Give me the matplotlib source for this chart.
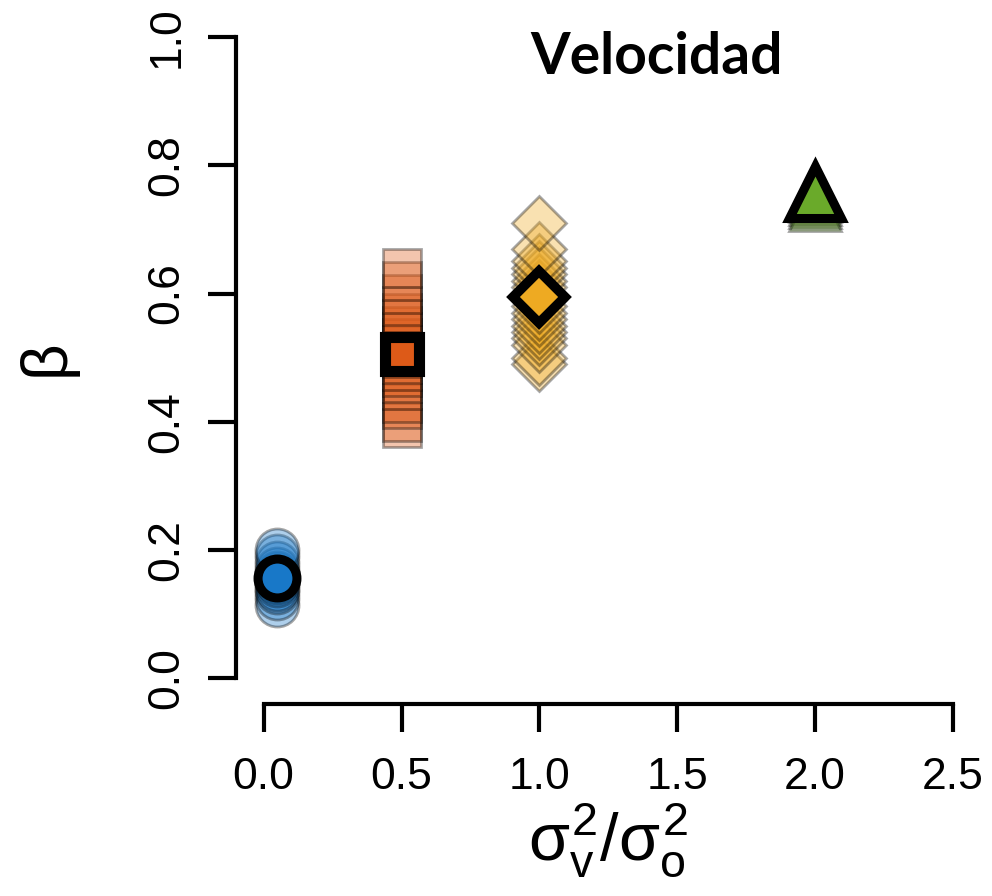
import matplotlib.pyplot as plt

# ratio of variances for each group and the mean beta
ratio = [0.05, 0.5, 1.0, 2.0]
beta_mean = [0.157, 0.505, 0.594, 0.758]

# replicate estimates behind each mean (read off the faded clouds)
beta_blue = [0.115, 0.125, 0.135, 0.14, 0.145, 0.15, 0.155, 0.16, 0.165, 0.17, 0.18, 0.19, 0.2]
beta_orange = [0.39, 0.40, 0.42, 0.43, 0.45, 0.46, 0.47, 0.48, 0.49, 0.50, 0.51,
               0.52, 0.53, 0.54, 0.55, 0.56, 0.57, 0.58, 0.60, 0.62, 0.64]
beta_yellow = [0.49, 0.50, 0.52, 0.53, 0.54, 0.55, 0.56, 0.57, 0.58, 0.59, 0.60,
               0.61, 0.62, 0.63, 0.64, 0.65, 0.67, 0.71]
beta_green = [0.738, 0.743, 0.748, 0.752, 0.756]

clouds = [beta_blue, beta_orange, beta_yellow, beta_green]
colors = ['#1878c8', '#dd5a18', '#eeaa22', '#6aaa2a']
markers = ['o', 's', 'D', '^']
cloud_ms = [31, 27, 28, 38]
main_ms = [28, 25, 26, 37]
main_mew = [6.5, 8, 7, 6.5]

plt.rcParams['font.family'] = ['Liberation Sans Narrow', 'Liberation Sans', 'DejaVu Sans']
plt.rcParams['mathtext.fontset'] = 'custom'
plt.rcParams['mathtext.rm'] = 'Liberation Sans'
plt.rcParams['mathtext.it'] = 'Liberation Sans'

fig = plt.figure(figsize=(9.92, 8.96), dpi=100)
ax = fig.add_axes([0.238, 0.2143, 0.7505, 0.773])

for i in range(len(ratio)):
    ys = clouds[i]
    ax.plot([ratio[i]] * len(ys), ys, linestyle='none', marker=markers[i],
            ms=cloud_ms[i], mfc=colors[i], mec=(0, 0, 0, 0.12), mew=2,
            alpha=0.35, clip_on=False)
    ax.plot([ratio[i]], [beta_mean[i]], linestyle='none', marker=markers[i],
            ms=main_ms[i], mfc=colors[i], mec='black', mew=main_mew[i],
            clip_on=False, zorder=5)

ax.set_xlim(-0.1, 2.6)
ax.set_ylim(-0.04, 1.04)
ax.set_xticks([0.0, 0.5, 1.0, 1.5, 2.0, 2.5])
ax.set_yticks([0.0, 0.2, 0.4, 0.6, 0.8, 1.0])
ax.set_xticklabels(['0.0', '0.5', '1.0', '1.5', '2.0', '2.5'])
ax.set_yticklabels(['0.0', '0.2', '0.4', '0.6', '0.8', '1.0'])

for side in ['top', 'right']:
    ax.spines[side].set_visible(False)
ax.spines['left'].set_bounds(0, 1)
ax.spines['bottom'].set_bounds(0, 2.5)
ax.spines['left'].set_linewidth(3)
ax.spines['bottom'].set_linewidth(3)
ax.tick_params(axis='both', length=20, width=3, labelsize=32)
ax.tick_params(axis='x', pad=18)
ax.tick_params(axis='y', pad=15)
plt.setp(ax.get_yticklabels(), rotation=90, va='center')

ax.set_ylabel('β', fontsize=46, labelpad=50)
ax.set_xlabel(r'$\sigma_v^2/\sigma_o^2$', fontsize=48, labelpad=3)

fig.text(657 / 992, 1 - 57 / 896, 'Velocidad', ha='center', va='center',
         fontsize=41, fontweight='bold', family=['Lato', 'DejaVu Sans'])

fig.savefig('out.png', dpi=100)
